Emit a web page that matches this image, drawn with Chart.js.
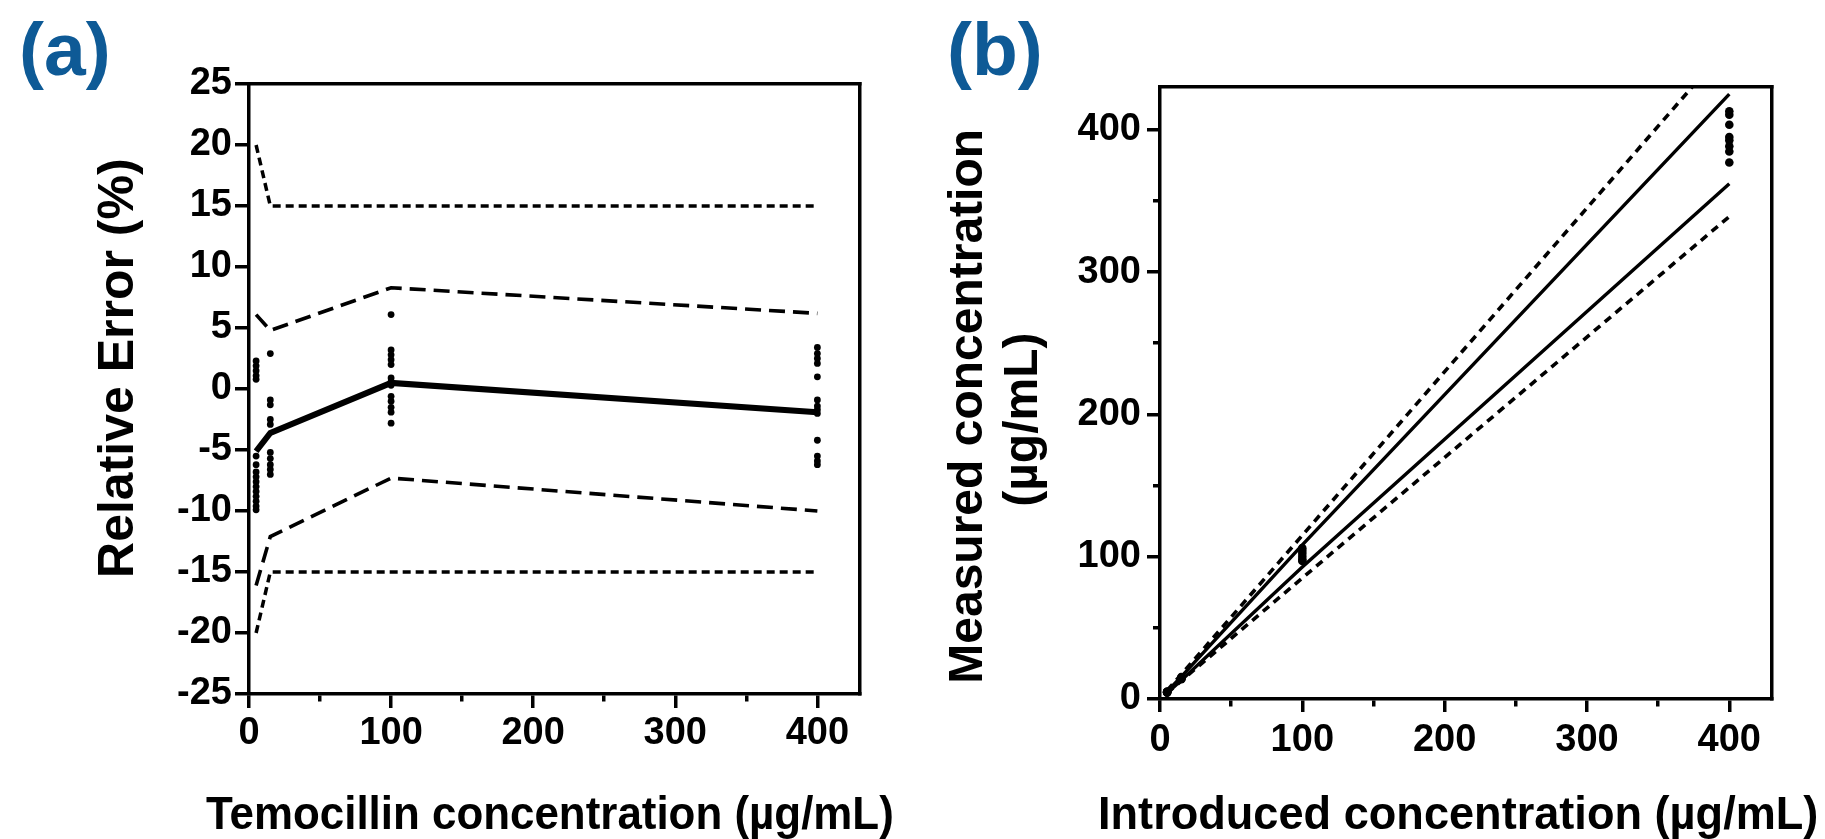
<!DOCTYPE html>
<html>
<head>
<meta charset="utf-8">
<script src="https://cdn.jsdelivr.net/npm/chart.js@4.4.0/dist/chart.umd.min.js"></script>
<style>
    body { margin: 0; background: #fff; }
    #wrap { position: relative; width: 1825px; height: 839px; overflow: hidden; }
    .panel { position: absolute; top: 0; height: 839px; }
    .tag { position: absolute; top: 12px; font: bold 75px "Liberation Sans", Arial, sans-serif; line-height: 1; color: #0e5a96; }
    .xcap { position: absolute; top: 790px; white-space: nowrap; font: bold 46px "Liberation Sans", Arial, sans-serif;
            line-height: 1; color: #000; transform-origin: 0 0; }
</style>
</head>
<body>
<div id="wrap">
    <div class="panel" style="left:0;width:912px"><canvas id="chartA"></canvas></div>
    <div class="panel" style="left:912px;width:913px"><canvas id="chartB"></canvas></div>
    <div class="tag" style="left:19px">(a)</div>
    <div class="tag" style="left:947px">(b)</div>
    <span class="xcap" id="capA">Temocillin concentration (µg/mL)</span>
    <span class="xcap" id="capB">Introduced concentration (µg/mL)</span>
</div>
<script>
// (a) relative error per concentration level
var levelsA = [5, 15, 100, 400];
var meanErr = [-5.1, -3.6, 0.5, -1.9];
var upperTol = [6.1, 4.8, 8.3, 6.2];
var lowerTol = [-16.1, -12.1, -7.3, -10.0];
var accLevels = [5, 15, 400];
var upperAcc = [20, 15, 15];
var lowerAcc = [-20, -15, -15];
var errAt5 = [2.3, 1.9, 1.5, 1.1, 0.8, -5.5, -6.2, -6.8, -7.2, -7.6, -8.0, -8.4, -8.8, -9.2, -9.6, -9.9];
var errAt15 = [2.9, -0.9, -1.3, -2.5, -2.9, -5.2, -5.7, -6.2, -6.6, -7.0];
var errAt100 = [6.1, 3.2, 2.8, 2.4, 2.0, 0.9, 0.6, 0.3, -0.6, -1.0, -1.5, -1.9, -2.8];
var errAt400 = [3.4, 2.9, 2.5, 2.1, 1.0, -0.9, -1.4, -1.7, -2.0, -4.2, -5.5, -5.9, -6.2];
var ticksA_y = [-25, 25, 5];

// (b) measured vs introduced concentration
var levelsB = [5, 15, 100, 400];
var upperAccB = [6, 17.3, 115, 460];
var lowerAccB = [4, 12.8, 85, 339];
var upperTolB = [5.3, 15.7, 108.3, 425];
var lowerTolB = [4.2, 13.2, 92.7, 362];
var measAt5 = [5.1, 5.1, 5.0, 4.7, 4.6, 4.5];
var measAt15 = [15.4, 14.9, 14.6, 14.2, 13.9];
var measAt100 = [106, 104, 102, 100, 98, 97];
var measAt400 = [412.9, 410.5, 403.5, 394.9, 392.5, 388.3, 384.7, 377];
var axisMax = 430;

var FONT = '"Liberation Sans", Arial, sans-serif';
var tickFont = { family: FONT, size: 38, weight: 'bold' };

// x captions are squeezed a little, as in the figure
function fitCaption(id, left, right) {
    var el = document.getElementById(id);
    el.style.left = left + 'px';
    el.style.transform = 'scaleX(' + ((right - left) / el.offsetWidth) + ')';
}
fitCaption('capA', 206, 894);
fitCaption('capB', 1098, 1818);

function pts(xs, ys) {
    return ys.map(function (y, i) { return { x: xs[i], y: y }; });
}
function column(x, ys) {
    return ys.map(function (y) { return { x: x, y: y }; });
}
function lineSet(data, width, dash) {
    return {
        data: data, showLine: true, borderColor: '#000', borderWidth: width,
        borderDash: dash, pointRadius: 0, pointHoverRadius: 0, fill: false, tension: 0,
        xAxisID: 'x', yAxisID: 'y'
    };
}
function dotSet(data, r) {
    return {
        data: data, showLine: false, backgroundColor: '#000', borderColor: '#000',
        borderWidth: 0, pointRadius: r, pointHoverRadius: r, xAxisID: 'x', yAxisID: 'y'
    };
}
function hundreds(v) { return v % 100 === 0 ? v : ''; }

// short ticks at the 50s (dash pattern cuts the tick mark)
function minorBottom(ctx) {
    return ctx.tick && ctx.tick.value % 100 !== 0 ? [6, 100] : [];
}
function minorLeft(ctx) {
    return ctx.tick && ctx.tick.value % 100 !== 0 ? [0, 6, 100, 0] : [];
}
function frameAxis(pos) {
    return {
        type: 'linear', axis: (pos == 'top' ? 'x' : 'y'), position: pos, min: 0, max: 1,
        ticks: { display: false },
        grid: { drawOnChartArea: false, drawTicks: false, lineWidth: 3.5 },
        border: { display: true, color: '#000', width: 3.5 },
        afterFit: function (s) { if (pos == 'top') s.height = 0; else s.width = 0; }
    };
}

// CHART (a): RELATIVE ERROR
var chartA = new Chart(document.getElementById('chartA'), {
    type: 'scatter',
    data: {
        datasets: [
            lineSet(pts(accLevels, upperAcc), 3.5, [8, 5]),
            lineSet(pts(accLevels, lowerAcc), 3.5, [8, 5]),
            lineSet(pts(levelsA, upperTol), 3.6, [16, 8]),
            lineSet(pts(levelsA, lowerTol), 3.6, [16, 8]),
            lineSet(pts(levelsA, meanErr), 6, []),
            dotSet(column(levelsA[0], errAt5), 3.4),
            dotSet(column(levelsA[1], errAt15), 3.4),
            dotSet(column(levelsA[2], errAt100), 3.4),
            dotSet(column(levelsA[3], errAt400), 3.4)
        ]
    },
    options: {
        responsive: true,
        maintainAspectRatio: false,
        animation: false,
        layout: { padding: { left: 0, right: 52, top: 84, bottom: 0 } },
        plugins: { legend: { display: false }, tooltip: { enabled: false } },
        scales: {
            x: {
                type: 'linear', position: 'bottom', min: 0, max: axisMax,
                ticks: { stepSize: 50, autoSkip: false, includeBounds: false, maxRotation: 0,
                    font: tickFont, color: '#000', padding: 3, callback: hundreds },
                grid: { drawOnChartArea: false, tickLength: 14, lineWidth: 3.5, color: '#000',
                    tickBorderDash: minorBottom },
                border: { display: true, color: '#000', width: 3.5 },
                afterFit: function (s) { s.height = 145; }
            },
            y: {
                type: 'linear', position: 'left', min: ticksA_y[0], max: ticksA_y[1],
                ticks: { stepSize: ticksA_y[2], autoSkip: false, font: tickFont, color: '#000', padding: 3 },
                grid: { drawOnChartArea: false, tickLength: 14, lineWidth: 3.5, color: '#000' },
                border: { display: true, color: '#000', width: 3.5 },
                title: { display: true, text: '   Relative Error (%)', color: '#000',
                    font: { family: FONT, size: 50, weight: 'bold', lineHeight: 1.2 },
                    padding: { top: 89, bottom: 0 } },
                afterFit: function (s) { s.width = 249; }
            },
            x2: frameAxis('top'),
            y2: frameAxis('right')
        }
    }
});

// CHART (b): MEASURED VS INTRODUCED
var chartB = new Chart(document.getElementById('chartB'), {
    type: 'scatter',
    data: {
        datasets: [
            lineSet(pts(levelsB, upperAccB), 3.6, [8, 6]),
            lineSet(pts(levelsB, lowerAccB), 3.6, [8, 6]),
            lineSet(pts(levelsB, upperTolB), 3.4, []),
            lineSet(pts(levelsB, lowerTolB), 3.4, []),
            dotSet(column(levelsB[0], measAt5), 4.3),
            dotSet(column(levelsB[1], measAt15), 4.3),
            dotSet(column(levelsB[2], measAt100), 4.3),
            dotSet(column(levelsB[3], measAt400), 4.3)
        ]
    },
    options: {
        responsive: true,
        maintainAspectRatio: false,
        animation: false,
        layout: { padding: { left: 0, right: 53, top: 87, bottom: 0 } },
        plugins: { legend: { display: false }, tooltip: { enabled: false } },
        scales: {
            x: {
                type: 'linear', position: 'bottom', min: 0, max: axisMax,
                ticks: { stepSize: 50, autoSkip: false, includeBounds: false, maxRotation: 0,
                    font: tickFont, color: '#000', padding: 6, callback: hundreds },
                grid: { drawOnChartArea: false, tickLength: 13, lineWidth: 3.5, color: '#000',
                    tickBorderDash: minorBottom },
                border: { display: true, color: '#000', width: 3.5 },
                afterFit: function (s) { s.height = 140; }
            },
            y: {
                type: 'linear', position: 'left', min: 0, max: axisMax,
                ticks: { stepSize: 50, autoSkip: false, includeBounds: false,
                    font: tickFont, color: '#000', padding: 6, callback: hundreds },
                grid: { drawOnChartArea: false, tickLength: 13, lineWidth: 3.5, color: '#000',
                    tickBorderDash: minorLeft },
                border: { display: true, color: '#000', width: 3.5 },
                title: { display: true, text: ['Measured concentration  ', '(µg/mL)    '], color: '#000',
                    font: { family: FONT, size: 48, weight: 'bold', lineHeight: 1.15 },
                    padding: { top: 29, bottom: 0 } },
                afterFit: function (s) { s.width = 248; }
            },
            x2: frameAxis('top'),
            y2: frameAxis('right')
        }
    }
});
</script>
</body>
</html>
